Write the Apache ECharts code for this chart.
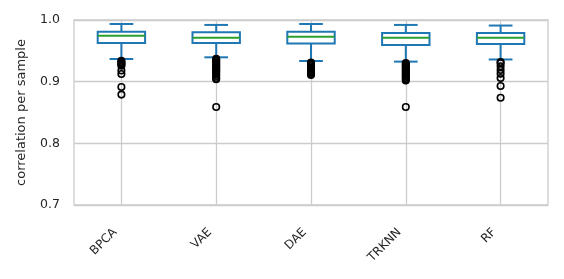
<!DOCTYPE html>
<html>
<head>
<meta charset="utf-8">
<script src="https://cdn.jsdelivr.net/npm/echarts@6/dist/echarts.min.js"></script>
<style>html,body{margin:0;padding:0;background:#fff}#c{width:564px;height:279px}</style>
</head>
<body>
<div id="c"></div>
<script>
const categories = ['BPCA', 'VAE', 'DAE', 'TRKNN', 'RF'];
// [lowerWhisker, q1, median, q3, upperWhisker]
const bpcaBox  = [0.9368, 0.9627, 0.9746, 0.9810, 0.9935];
const vaeBox   = [0.9395, 0.9627, 0.9712, 0.9800, 0.9920];
const daeBox   = [0.9335, 0.9620, 0.9730, 0.9810, 0.9935];
const trknnBox = [0.9325, 0.9595, 0.9712, 0.9790, 0.9920];
const rfBox    = [0.9360, 0.9610, 0.9712, 0.9790, 0.9910];
const bpcaOut  = [0.9340, 0.9320, 0.9300, 0.9280, 0.9260, 0.9180, 0.9124, 0.8914, 0.8790];
const vaeOut   = [0.9370, 0.9350, 0.9330, 0.9310, 0.9290, 0.9270, 0.9250, 0.9230, 0.9210, 0.9190, 0.9170, 0.9150, 0.9120, 0.9090, 0.9060, 0.9040, 0.8590];
const daeOut   = [0.9310, 0.9290, 0.9270, 0.9250, 0.9230, 0.9210, 0.9190, 0.9170, 0.9150, 0.9130, 0.9110];
const trknnOut = [0.9300, 0.9280, 0.9260, 0.9240, 0.9220, 0.9200, 0.9180, 0.9160, 0.9140, 0.9120, 0.9100, 0.9080, 0.9060, 0.9040, 0.9020, 0.8590];
const rfOut    = [0.9320, 0.9300, 0.9250, 0.9190, 0.9130, 0.9060, 0.8930, 0.8740];
const yTicks = [0.7, 0.8, 0.9, 1.0];

const boxes = [bpcaBox, vaeBox, daeBox, trknnBox, rfBox];
const outs = [bpcaOut, vaeOut, daeOut, trknnOut, rfOut];
const boxData = boxes.map((b, i) => [i].concat(b));
const outData = [];
outs.forEach((arr, i) => arr.forEach(v => outData.push([i, v])));

const BLUE = '#1f77b4', GREEN = '#2ca02c', FONT = 'DejaVu Sans', TXT = '#262626';

const chart = echarts.init(document.getElementById('c'), null, {renderer: 'canvas'});
chart.setOption({
  animation: false,
  backgroundColor: '#fff',
  grid: {left: 74, right: 16, top: 20, bottom: 74, show: true, borderColor: '#cccccc', borderWidth: 1.3, backgroundColor: 'transparent'},
  xAxis: {
    type: 'category', data: categories, boundaryGap: true,
    axisLine: {show: false}, axisTick: {show: false, alignWithLabel: true},
    splitLine: {show: true, alignWithLabel: true, lineStyle: {color: '#cccccc', width: 1.3}},
    axisLabel: {rotate: 45, fontFamily: FONT, fontSize: 12, color: TXT, margin: 19, padding: [0, 9, 0, 0], interval: 0}
  },
  yAxis: {
    type: 'value', min: 0.7, max: 1.0, interval: 0.1,
    axisLine: {show: false}, axisTick: {show: false},
    splitLine: {show: true, lineStyle: {color: '#cccccc', width: 1.3}},
    axisLabel: {fontFamily: FONT, fontSize: 12.5, color: TXT, margin: 14, formatter: v => v.toFixed(1)},
    name: 'correlation per sample', nameLocation: 'middle', nameGap: 46,
    nameTextStyle: {fontFamily: FONT, fontSize: 13, color: TXT}
  },
  series: [
    {
      type: 'custom', data: boxData, z: 3,
      encode: {x: 0, y: [1, 2, 3, 4, 5]},
      renderItem: function (params, api) {
        const x = api.value(0);
        const bw = api.size([1, 0])[0];
        const hw = bw * 0.25, cw = bw * 0.125;
        const pLo = api.coord([x, api.value(1)]);
        const pQ1 = api.coord([x, api.value(2)]);
        const pMd = api.coord([x, api.value(3)]);
        const pQ3 = api.coord([x, api.value(4)]);
        const pHi = api.coord([x, api.value(5)]);
        const cx = pMd[0];
        const st = {stroke: BLUE, lineWidth: 2, fill: null};
        return {
          type: 'group', children: [
            {type: 'line', shape: {x1: cx, y1: pQ1[1], x2: cx, y2: pLo[1]}, style: st},
            {type: 'line', shape: {x1: cx, y1: pQ3[1], x2: cx, y2: pHi[1]}, style: st},
            {type: 'line', shape: {x1: cx - cw, y1: pLo[1], x2: cx + cw, y2: pLo[1]}, style: st},
            {type: 'line', shape: {x1: cx - cw, y1: pHi[1], x2: cx + cw, y2: pHi[1]}, style: st},
            {type: 'rect', shape: {x: cx - hw, y: pQ3[1], width: 2 * hw, height: pQ1[1] - pQ3[1]}, style: {stroke: BLUE, lineWidth: 2, fill: '#fff'}},
            {type: 'line', shape: {x1: cx - hw, y1: pMd[1], x2: cx + hw, y2: pMd[1]}, style: {stroke: GREEN, lineWidth: 2}}
          ]
        };
      }
    },
    {
      type: 'scatter', data: outData, z: 4, symbol: 'circle', symbolSize: 6.5,
      itemStyle: {color: 'rgba(0,0,0,0)', borderColor: '#000', borderWidth: 1.6, opacity: 1}
    }
  ]
});
</script>
</body>
</html>
